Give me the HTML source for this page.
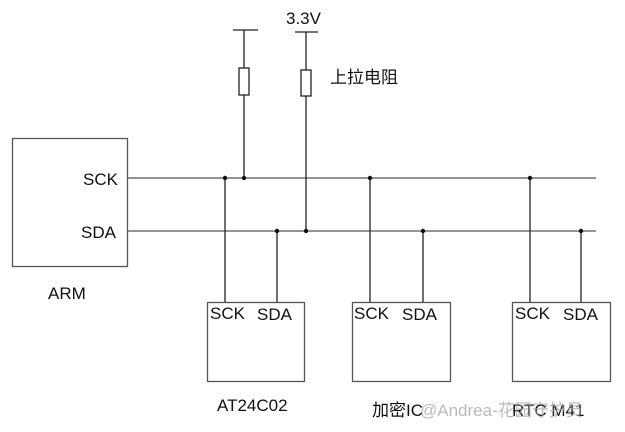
<!DOCTYPE html>
<html><head><meta charset="utf-8"><style>body{margin:0;background:#fff}</style></head><body>
<svg width="625" height="427" xmlns="http://www.w3.org/2000/svg" font-family="'Liberation Sans','Noto Sans CJK SC',sans-serif" font-size="17">
<g stroke="#222" stroke-width="1.3" fill="none">
<rect x="12.5" y="138.5" width="115" height="128" stroke="#555"/>
<rect x="207.5" y="302.5" width="97" height="79" stroke="#555"/>
<rect x="352.5" y="302.5" width="98" height="79" stroke="#555"/>
<rect x="512.5" y="302.5" width="98" height="79" stroke="#555"/>
<line x1="128" y1="178" x2="596" y2="178" stroke="#555"/>
<line x1="128" y1="231" x2="596" y2="231" stroke="#555"/>
<line x1="233" y1="30" x2="258" y2="30"/>
<line x1="244" y1="30" x2="244" y2="178"/>
<rect x="239" y="68" width="10" height="27" fill="#fff"/>
<line x1="295" y1="32" x2="318" y2="32"/>
<line x1="306" y1="32" x2="306" y2="231"/>
<rect x="301" y="70" width="10" height="26" fill="#fff"/>
<line x1="225" y1="178" x2="225" y2="302"/>
<line x1="277" y1="231" x2="277" y2="302"/>
<line x1="370" y1="178" x2="370" y2="302"/>
<line x1="423" y1="231" x2="423" y2="302"/>
<line x1="530" y1="178" x2="530" y2="302"/>
<line x1="581" y1="231" x2="581" y2="302"/>
</g>
<g fill="#111">
<circle cx="225" cy="178" r="2.2"/><circle cx="244" cy="178" r="2.2"/><circle cx="370" cy="178" r="2.2"/><circle cx="530" cy="178" r="2.2"/>
<circle cx="277" cy="231" r="2.2"/><circle cx="306" cy="231" r="2.2"/><circle cx="423" cy="231" r="2.2"/><circle cx="581" cy="231" r="2.2"/>
<text x="286" y="24">3.3V</text>
<text x="330" y="83">上拉电阻</text>
<text x="83" y="185">SCK</text>
<text x="81" y="238">SDA</text>
<text x="48" y="299">ARM</text>
<text x="210" y="319">SCK</text>
<text x="257" y="320">SDA</text>
<text x="354" y="319">SCK</text>
<text x="402" y="320">SDA</text>
<text x="515" y="319">SCK</text>
<text x="563" y="320">SDA</text>
<text x="217" y="411">AT24C02</text>
<text x="372" y="416">加密IC</text>
<text x="512" y="416">RTC M41</text>
<text x="420" y="416" fill="#aaa" opacity="0.8">@Andrea-花园守护员</text>
</g>
</svg>
</body></html>
